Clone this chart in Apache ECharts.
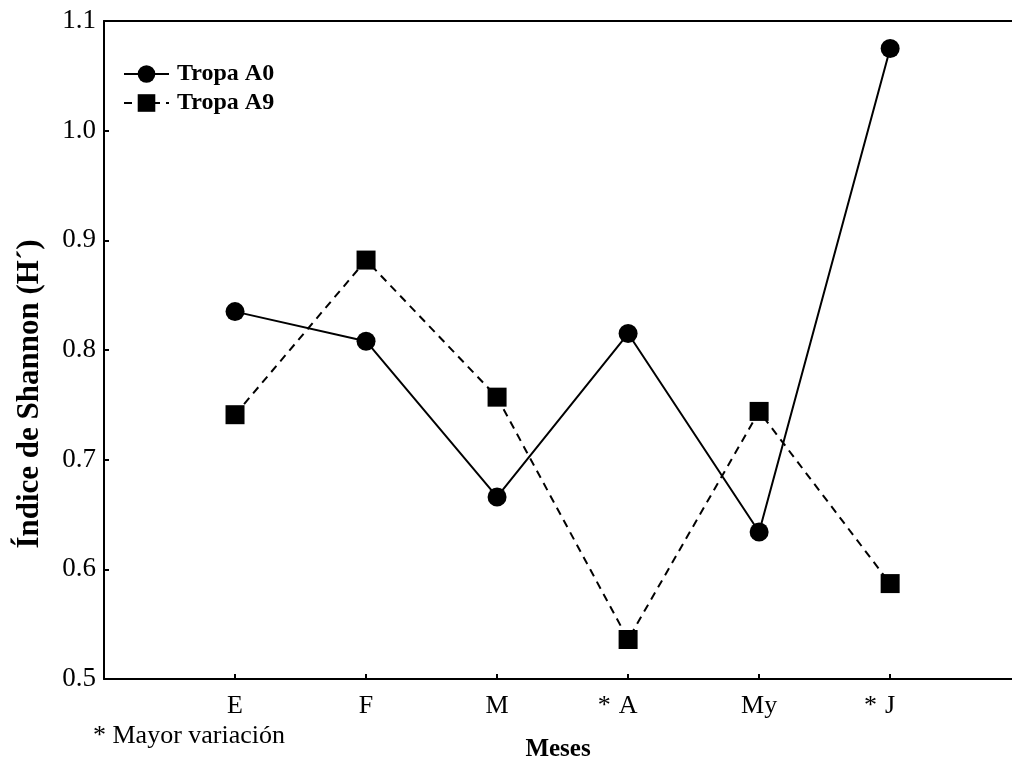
<!DOCTYPE html>
<html>
<head>
<meta charset="utf-8">
<script src="https://cdn.jsdelivr.net/npm/echarts@6/dist/echarts.min.js"></script>
<style>
html,body{margin:0;padding:0;background:#fff;}
#c{width:1012px;height:767px;}
</style>
</head>
<body>
<div id="c"></div>
<script>
var categories = ['E', 'F', 'M', 'A', 'My', 'J'];
var starred = [false, false, false, true, false, true];
var tropaA0 = [0.835, 0.808, 0.666, 0.815, 0.634, 1.075];
var tropaA9 = [0.741, 0.882, 0.757, 0.536, 0.744, 0.587];
var yTicks = [0.5, 0.6, 0.7, 0.8, 0.9, 1.0, 1.1];

var FONT = 'Liberation Serif';
var positions = categories.map(function (c, i) { return i + 1; });

function toPoints(vals) {
  return vals.map(function (v, i) { return [positions[i], v]; });
}

var chart = echarts.init(document.getElementById('c'), null, {renderer: 'canvas'});

var option = {
  animation: false,
  backgroundColor: '#fff',
  textStyle: {fontFamily: FONT, color: '#000'},
  grid: {left: 104, right: 0, top: 21, bottom: 84, containLabel: false},
  legend: {
    orient: 'vertical',
    left: 123,
    top: 62,
    padding: 0,
    itemWidth: 45,
    itemHeight: 22,
    itemGap: 5,
    textStyle: {fontFamily: FONT, fontSize: 24, lineHeight: 22, fontWeight: 'bold', color: '#000', padding: [0, 0, 0, 3]},
    data: ['Tropa A0', 'Tropa A9']
  },
  xAxis: [{
    type: 'value',
    position: 'bottom',
    min: 0,
    max: 6.93,
    name: 'Meses',
    nameLocation: 'middle',
    nameGap: 58,
    nameTextStyle: {fontFamily: FONT, fontSize: 25, fontWeight: 'bold', color: '#000'},
    axisLine: {show: true, onZero: false, lineStyle: {color: '#000', width: 2}},
    axisTick: {show: true, inside: true, length: 5, customValues: positions, lineStyle: {color: '#000', width: 2}},
    splitLine: {show: false},
    axisLabel: {
      margin: 14,
      fontFamily: FONT,
      fontSize: 26,
      color: '#000',
      customValues: positions,
      formatter: function (v) {
        var i = Math.round(v) - 1;
        if (i < 0 || i >= categories.length) return '';
        if (starred[i]) return '{ast|*}' + categories[i] + '{pad| }';
        return categories[i];
      },
      rich: {
        ast: {width: 21, align: 'left', fontFamily: FONT, fontSize: 26, color: '#000'},
        pad: {width: 21, fontFamily: FONT, fontSize: 26, color: '#000'}
      }
    }
  }, {
    type: 'value',
    position: 'top',
    min: 0,
    max: 6.93,
    axisLine: {show: true, onZero: false, lineStyle: {color: '#000', width: 2}},
    axisTick: {show: false},
    axisLabel: {show: false},
    splitLine: {show: false}
  }],
  yAxis: {
    type: 'value',
    min: 0.5,
    max: 1.1,
    interval: 0.1,
    name: 'Índice de Shannon (H´)',
    nameLocation: 'middle',
    nameGap: 59,
    nameTextStyle: {fontFamily: FONT, fontSize: 31, fontWeight: 'bold', color: '#000', padding: [0, 88, 0, 0]},
    axisLine: {show: true, onZero: false, lineStyle: {color: '#000', width: 2}},
    axisTick: {show: true, inside: true, length: 5, lineStyle: {color: '#000', width: 2}},
    splitLine: {show: false},
    axisLabel: {
      margin: 8,
      fontFamily: FONT,
      fontSize: 27,
      color: '#000',
      formatter: function (v) { return v.toFixed(1); }
    }
  },
  graphic: [{
    type: 'text',
    left: 93,
    top: 723,
    style: {text: '* Mayor variación', fontFamily: FONT, fontSize: 26, fill: '#000'}
  }],
  series: [{
    name: 'Tropa A0',
    type: 'line',
    data: toPoints(tropaA0),
    symbol: 'circle',
    symbolSize: 19,
    itemStyle: {color: '#000'},
    lineStyle: {color: '#000', width: 2, type: 'solid'}
  }, {
    name: 'Tropa A9',
    type: 'line',
    data: toPoints(tropaA9),
    symbol: 'rect',
    symbolSize: 19,
    itemStyle: {color: '#000'},
    lineStyle: {color: '#000', width: 2, type: [8, 6]}
  }]
};
chart.setOption(option);
</script>
</body>
</html>
